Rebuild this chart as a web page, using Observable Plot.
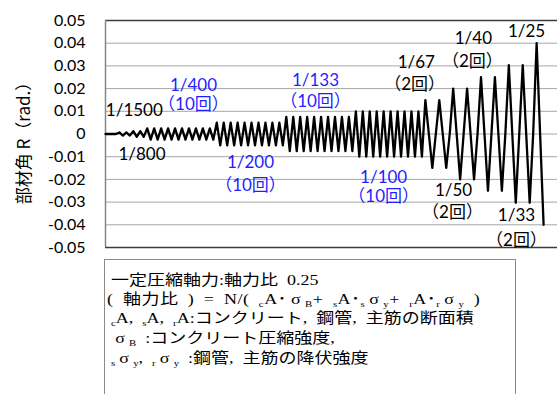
<!DOCTYPE html>
<html>
<head>
<meta charset="utf-8">
<script src="https://cdn.jsdelivr.net/npm/d3@7"></script>
<script src="https://cdn.jsdelivr.net/npm/@observablehq/plot@0.6"></script>
<style>
  body { margin: 0; background: #fff; }
  #wrap { position: relative; width: 558px; height: 394px; overflow: hidden; background: #fff; }
  #wrap svg { display: block; }
  #note {
    position: absolute; left: 104px; top: 259px; width: 412px; height: 150px;
    border: 1px solid #8a8a8a; box-sizing: border-box;
    font-family: "Liberation Serif", "Noto Sans CJK JP", serif; font-size: 15px; color: #000;
  }
  #note div { position: absolute; white-space: nowrap; line-height: 15px; transform: scaleX(1.2); transform-origin: 0 50%; }
  #note sub { font-size: 9px; vertical-align: -3px; line-height: 0; }
  /* full-width Greek sigma */
  #note .g { display: inline-block; width: 15px; text-align: center; }
</style>
</head>
<body>
<div id="wrap">
  <div id="chart"></div>
  <div id="note">
    <div style="left:6px;top:13px">一定圧縮軸力:軸力比&#x2002;0.25</div>
    <div style="left:2px;top:32px;letter-spacing:0.4px">(&#x2002;軸力比&#x2002;)&#x2002;=&#x2002;N/(&#x2002;<sub>c</sub>A･<span class="g">σ</span><sub>B</sub>+&#x2002;<sub>s</sub>A･<sub>s</sub><span class="g">σ</span><sub>y</sub>+&#x2002;<sub>r</sub>A･<sub>r</sub><span class="g">σ</span><sub>y</sub>&#x2002;)</div>
    <div style="left:6px;top:51px"><sub>c</sub>A,&#x2002;<sub>s</sub>A,&#x2002;<sub>r</sub>A:コンクリート,&#x2002;鋼管,&#x2002;主筋の断面積</div>
    <div style="left:6px;top:71px"><span class="g">σ</span><sub>B</sub>&#x2002;:コンクリート圧縮強度,</div>
    <div style="left:6px;top:91px"><sub>s</sub><span class="g">σ</span><sub>y</sub>,&#x2002;<sub>r</sub><span class="g">σ</span><sub>y</sub>&#x2002;:鋼管,&#x2002;主筋の降伏強度</div>
  </div>
</div>
<script>
// Loading protocol: drift amplitude R = 1/denominator, repeated for the given number of cycles
const denominators = [1500, 800, 400, 200, 133, 100, 67, 50, 40, 33, 25];
const cycleCounts  = [2, 2, 10, 10, 10, 10, 2, 2, 2, 2, 1];
// the large cycles also record the return to zero between peaks
const zeroRecorded = [false, false, false, false, false, false, true, true, true, true, true];
const leadingZeros = 4;

// y-axis ticks (rad.)
const yTicks = [-0.05, -0.04, -0.03, -0.02, -0.01, 0, 0.01, 0.02, 0.03, 0.04, 0.05];

// stage annotations (anchored in step / drift units)
const notes = [
  {text: "1/1500",  step: 8.3,   r: 0.0104,  blue: false},
  {text: "1/800",   step: 10.5,  r: -0.0090, blue: false},
  {text: "1/400",   step: 25.3,  r: 0.0214,  blue: true},
  {text: "（10回）", step: 25.3,  r: 0.0130,  blue: true},
  {text: "1/200",   step: 41.7,  r: -0.0126, blue: true},
  {text: "（10回）", step: 41.7,  r: -0.0227, blue: true},
  {text: "1/133",   step: 60.4,  r: 0.0236,  blue: true},
  {text: "（10回）", step: 60.4,  r: 0.0143,  blue: true},
  {text: "1/100",   step: 80.0,  r: -0.0192, blue: true},
  {text: "（10回）", step: 80.0,  r: -0.0275, blue: true},
  {text: "1/67",    step: 89.4,  r: 0.0315,  blue: false},
  {text: "（2回）",  step: 88.9,  r: 0.0218,  blue: false},
  {text: "1/50",    step: 100.1, r: -0.0249, blue: false},
  {text: "（2回）",  step: 99.8,  r: -0.0346, blue: false},
  {text: "1/40",    step: 105.8, r: 0.0421,  blue: false},
  {text: "（2回）",  step: 105.5, r: 0.0319,  blue: false},
  {text: "1/33",    step: 118.2, r: -0.0359, blue: false},
  {text: "（2回）",  step: 118.2, r: -0.0469, blue: false},
  {text: "1/25",    step: 121.1, r: 0.0452,  blue: false}
];

// expand the protocol into the recorded sequence of drift angles
const history = [];
for (let k = 0; k < leadingZeros; k++) history.push(0);
denominators.forEach((d, s) => {
  const a = 1 / d;
  for (let c = 0; c < cycleCounts[s]; c++) {
    history.push(a);
    if (zeroRecorded[s]) history.push(0);
    history.push(-a);
    if (zeroRecorded[s]) history.push(0);
  }
});
history.pop(); // test ends at the final negative peak
const series = history.map((r, i) => ({step: i, r}));

const tickFmt = d => Math.abs(d) < 1e-9 ? "0" : d.toFixed(2);

const chart = Plot.plot({
  width: 558,
  height: 252,
  marginLeft: 105,
  marginRight: 1,
  marginTop: 20,
  marginBottom: 5,
  style: {fontFamily: "Lato, 'Noto Sans CJK JP', sans-serif", fontSize: "16px", color: "#000", background: "#fff", overflow: "visible"},
  x: {domain: [0, 130], axis: null},
  y: {domain: [-0.05, 0.05], axis: null},
  marks: [
    Plot.ruleY(yTicks.filter(t => Math.abs(t) < 0.0499), {stroke: "#a6a6a6", strokeWidth: 1}),
    Plot.ruleY([-0.05, 0.05], {stroke: "#3c3c3c", strokeWidth: 1.3}),
    Plot.ruleX([0], {stroke: "#868686", strokeWidth: 1.5}),
    Plot.axisY({ticks: yTicks, tickSize: 0, tickPadding: 20, tickFormat: tickFmt, fontSize: 16, label: null}),
    Plot.text(["部材角 R（rad.）"], {frameAnchor: "left", textAnchor: "middle", lineAnchor: "middle", rotate: -90, dx: -81, dy: 5, fontSize: 17, fontFamily: "'Noto Sans CJK JP', sans-serif", fill: "#000"}),
    Plot.line(series, {x: "step", y: "r", stroke: "#000", strokeWidth: 2.3}),
    Plot.text(notes.filter(n => !n.blue), {x: "step", y: "r", text: "text", fill: "#000", fontSize: 17, lineAnchor: "middle"}),
    Plot.text(notes.filter(n => n.blue), {x: "step", y: "r", text: "text", fill: "#1f1fff", fontSize: 17, lineAnchor: "middle"})
  ]
});
document.getElementById("chart").appendChild(chart);
</script>
</body>
</html>
